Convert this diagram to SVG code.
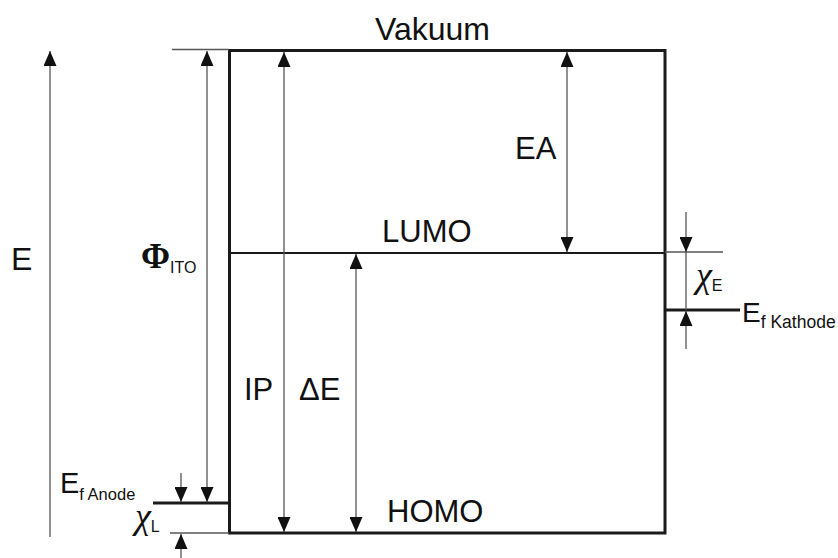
<svg xmlns="http://www.w3.org/2000/svg" width="838" height="558" viewBox="0 0 838 558">
<defs>
<marker id="ah" viewBox="0 0 15 13" refX="15" refY="6.5" markerWidth="15" markerHeight="13" markerUnits="userSpaceOnUse" orient="auto-start-reverse">
<path d="M0,0 L15,6.5 L0,13 Z" fill="#111"/>
</marker>
<style>
.t{font-family:"Liberation Sans",Arial,sans-serif;fill:#111}
.s{font-family:"Liberation Serif","Times New Roman",serif;fill:#111}
.thick{stroke:#1a1a1a;stroke-width:3;fill:none}
.mid{stroke:#1a1a1a;stroke-width:2;fill:none}
.thin{stroke:#555;stroke-width:1.3;fill:none}
.arr{stroke:#555;stroke-width:1.3;fill:none}
</style>
</defs>
<rect width="838" height="558" fill="#fff"/>
<g id="levels">
<rect id="box" x="229.5" y="50.5" width="435.5" height="482.5" class="thick"/>
<line id="vakuum-ext" x1="172" y1="49.5" x2="229" y2="49.5" class="thin"/>
<line id="lumo-line" x1="229" y1="253" x2="665" y2="253" class="mid"/>
<line id="lumo-ext" x1="665" y1="252" x2="723" y2="252" class="thin"/>
<line id="ef-kathode-line" x1="665" y1="310" x2="740" y2="310" class="thick"/>
<line id="ef-anode-line" x1="153" y1="503" x2="229" y2="503" class="thick"/>
<line id="homo-ext" x1="170" y1="533" x2="229" y2="533" class="thin"/>
</g>
<g id="connectors">
<line id="e-axis" x1="50" y1="537" x2="50" y2="51" class="arr" marker-end="url(#ah)"/>
<line id="phi-ito" x1="207" y1="51" x2="207" y2="502" class="arr" marker-start="url(#ah)" marker-end="url(#ah)"/>
<line id="ip" x1="284" y1="52" x2="284" y2="532" class="arr" marker-start="url(#ah)" marker-end="url(#ah)"/>
<line id="delta-e" x1="356" y1="254" x2="356" y2="532" class="arr" marker-start="url(#ah)" marker-end="url(#ah)"/>
<line id="ea" x1="567" y1="52" x2="567" y2="252" class="arr" marker-start="url(#ah)" marker-end="url(#ah)"/>
<line id="chi-e-top" x1="686" y1="212" x2="686" y2="252" class="arr" marker-end="url(#ah)"/>
<line id="chi-e-mid" x1="686" y1="252" x2="686" y2="310" class="thin"/>
<line id="chi-e-bot" x1="686" y1="349" x2="686" y2="311" class="arr" marker-end="url(#ah)"/>
<line id="chi-l-top" x1="181" y1="473" x2="181" y2="502" class="arr" marker-end="url(#ah)"/>
<line id="chi-l-bot" x1="181" y1="558" x2="181" y2="534" class="arr" marker-end="url(#ah)"/>
</g>
<g id="labels">
<text id="vakuum" class="t" x="375" y="40" font-size="32">Vakuum</text>
<text id="ea-label" class="t" x="515" y="159" font-size="31">EA</text>
<text id="lumo" class="t" x="382" y="242" font-size="31">LUMO</text>
<text id="homo" class="t" x="387" y="522" font-size="31">HOMO</text>
<text id="e-label" class="t" x="11" y="270" font-size="32">E</text>
<text id="phi" x="141" y="268"><tspan class="s" font-size="35" font-weight="bold">Φ</tspan><tspan class="t" font-size="16" dy="5">ITO</tspan></text>
<text id="ip-label" class="t" x="244" y="400" font-size="31">IP</text>
<text id="de-label" class="t" x="299" y="400" font-size="31">ΔE</text>
<text id="ef-anode" class="t" x="60" y="493"><tspan font-size="29">E</tspan><tspan font-size="16.5" dy="7">f Anode</tspan></text>
<text id="chi-l" x="135" y="528"><tspan class="s" font-size="36" font-style="italic">χ</tspan><tspan class="t" font-size="16" dy="4">L</tspan></text>
<text id="chi-e" x="696" y="287"><tspan class="s" font-size="36" font-style="italic">χ</tspan><tspan class="t" font-size="16" dy="4">E</tspan></text>
<text id="ef-kathode" class="t" x="742" y="322"><tspan font-size="28">E</tspan><tspan font-size="17.5" dy="6">f Kathode</tspan></text>
</g>
</svg>
